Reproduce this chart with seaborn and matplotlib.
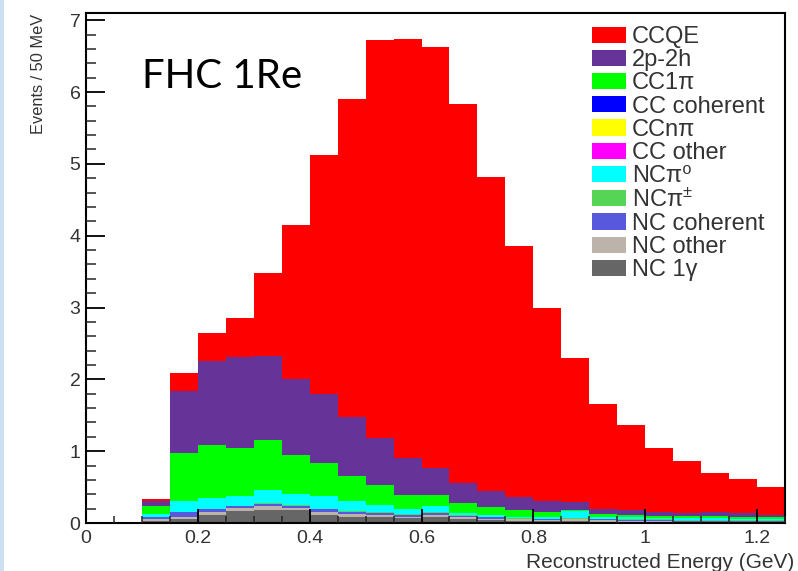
import numpy as np
import pandas as pd
import matplotlib
matplotlib.use("Agg")
import matplotlib.pyplot as plt
from matplotlib.patches import Patch, Rectangle
from matplotlib.ticker import MultipleLocator
import seaborn as sns

# ---------------- data (events per 50 MeV bin) ----------------
bin_low = [0.10, 0.15, 0.20, 0.25, 0.30, 0.35, 0.40, 0.45, 0.50, 0.55, 0.60, 0.65,
           0.70, 0.75, 0.80, 0.85, 0.90, 0.95, 1.00, 1.05, 1.10, 1.15, 1.20]
bin_width = 0.05

ccqe      = [0.02, 0.25, 0.40, 0.55, 1.16, 2.15, 3.32, 4.43, 5.54, 5.84, 5.85, 5.29,
             4.37, 3.50, 2.70, 2.01, 1.46, 1.18, 0.89, 0.73, 0.53, 0.47, 0.39]
two_p2h   = [0.08, 0.87, 1.16, 1.26, 1.17, 1.05, 0.97, 0.81, 0.65, 0.51, 0.38, 0.27,
             0.22, 0.18, 0.15, 0.11, 0.07, 0.07, 0.06, 0.04, 0.06, 0.05, 0.02]
cc1pi     = [0.10, 0.66, 0.74, 0.68, 0.69, 0.54, 0.46, 0.36, 0.28, 0.20, 0.16, 0.14,
             0.11, 0.09, 0.06, 0.01, 0.05, 0.03, 0.03, 0.03, 0.03, 0.03, 0.03]
cc_coh    = [0.00, 0.00, 0.00, 0.00, 0.00, 0.00, 0.00, 0.00, 0.00, 0.00, 0.00, 0.00,
             0.00, 0.00, 0.00, 0.00, 0.00, 0.00, 0.00, 0.00, 0.00, 0.00, 0.00]
cc_npi    = [0.00, 0.00, 0.00, 0.00, 0.00, 0.00, 0.00, 0.00, 0.00, 0.00, 0.00, 0.00,
             0.00, 0.00, 0.00, 0.00, 0.00, 0.00, 0.00, 0.00, 0.00, 0.00, 0.00]
cc_other  = [0.00, 0.00, 0.00, 0.00, 0.00, 0.00, 0.00, 0.00, 0.00, 0.00, 0.00, 0.00,
             0.00, 0.00, 0.00, 0.00, 0.00, 0.00, 0.00, 0.00, 0.00, 0.00, 0.00]
nc_pi0    = [0.04, 0.15, 0.15, 0.13, 0.18, 0.16, 0.17, 0.13, 0.10, 0.07, 0.08, 0.03,
             0.02, 0.02, 0.03, 0.10, 0.02, 0.03, 0.02, 0.03, 0.03, 0.02, 0.02]
nc_pipm   = [0.00, 0.01, 0.01, 0.01, 0.01, 0.01, 0.01, 0.01, 0.01, 0.01, 0.01, 0.01,
             0.01, 0.01, 0.01, 0.01, 0.01, 0.01, 0.01, 0.01, 0.01, 0.01, 0.01]
nc_coh    = [0.04, 0.06, 0.04, 0.02, 0.04, 0.03, 0.03, 0.03, 0.03, 0.02, 0.03, 0.02,
             0.02, 0.01, 0.01, 0.01, 0.01, 0.01, 0.01, 0.01, 0.01, 0.01, 0.01]
nc_other  = [0.02, 0.04, 0.04, 0.04, 0.05, 0.03, 0.05, 0.04, 0.03, 0.02, 0.03, 0.02,
             0.02, 0.02, 0.01, 0.02, 0.02, 0.01, 0.01, 0.01, 0.01, 0.01, 0.01]
nc_1gamma = [0.03, 0.05, 0.11, 0.17, 0.18, 0.18, 0.11, 0.09, 0.08, 0.07, 0.08, 0.06,
             0.04, 0.03, 0.03, 0.03, 0.02, 0.02, 0.02, 0.01, 0.01, 0.01, 0.01]

modes = ["CCQE", "2p-2h", "CC1π", "CC coherent", "CCnπ", "CC other",
         "NCπ0", "NCπpm", "NC coherent", "NC other", "NC 1γ"]
mode_values = [ccqe, two_p2h, cc1pi, cc_coh, cc_npi, cc_other,
               nc_pi0, nc_pipm, nc_coh, nc_other, nc_1gamma]
legend_labels = ["CCQE", "2p-2h", "CC1π", "CC coherent", "CCnπ", "CC other",
                 "NCπ⁰", "NCπ$^{\\pm}$", "NC coherent", "NC other", "NC 1γ"]
colors = ["#ff0000", "#663399", "#00ff00", "#0000ff", "#ffff00", "#ff00ff",
          "#00ffff", "#55d455", "#5858dc", "#bcb3aa", "#666666"]

x_ticks = [0, 0.2, 0.4, 0.6, 0.8, 1.0, 1.2]
x_tick_labels = ["0", "0.2", "0.4", "0.6", "0.8", "1", "1.2"]
y_ticks = [0, 1, 2, 3, 4, 5, 6, 7]

# ---------------- table ----------------
rows = []
for m, vals in zip(modes, mode_values):
    for lo, v in zip(bin_low, vals):
        rows.append({"energy": lo + bin_width / 2, "events": v, "mode": m})
df = pd.DataFrame(rows)
edges = list(bin_low) + [bin_low[-1] + bin_width]

# ---------------- style ----------------
sns.set_style("ticks")
plt.rcParams["font.family"] = ["Liberation Sans", "DejaVu Sans"]
plt.rcParams["mathtext.fontset"] = "custom"
plt.rcParams["mathtext.rm"] = "Liberation Sans"
plt.rcParams["mathtext.it"] = "Liberation Sans:italic"

W, H = 798, 571
fig = plt.figure(figsize=(W / 100, H / 100), dpi=100)
fig.patch.set_facecolor("white")
fig.patches.append(Rectangle((0, 0), 4 / W, 1, transform=fig.transFigure,
                             facecolor="#cfdff2", edgecolor="none", zorder=0))

ax = fig.add_axes([86 / W, (H - 523) / H, 699 / W, 510 / H])
palette = dict(zip(modes, colors))
sns.histplot(data=df, x="energy", weights="events", hue="mode", hue_order=modes,
             bins=edges, multiple="stack", element="step", palette=palette,
             alpha=1, linewidth=0, legend=False, ax=ax)

ax.set_xlim(0, 1.25)
ax.set_ylim(0, 7.1)
ax.set_xticks(x_ticks)
ax.set_xticklabels(x_tick_labels)
ax.set_yticks(y_ticks)
ax.xaxis.set_minor_locator(MultipleLocator(0.05))
ax.yaxis.set_minor_locator(MultipleLocator(0.2))
ax.set_xlabel("")
ax.set_ylabel("")
ax.set_axisbelow(False)

for sp in ax.spines.values():
    sp.set_visible(True)
    sp.set_color("black")
    sp.set_linewidth(1.5)

ax.tick_params(axis="y", which="major", direction="in", length=14, width=1.3,
               labelsize=14, pad=4, colors="black")
ax.tick_params(axis="y", which="minor", direction="in", length=7, width=1.1)
ax.tick_params(axis="x", which="major", direction="in", length=10, width=1.3,
               labelsize=14, pad=5, colors="black")
ax.tick_params(axis="x", which="minor", direction="in", length=5, width=1.1)
for lab in ax.get_xticklabels() + ax.get_yticklabels():
    lab.set_color("#333333")

fig.text(794 / W, (H - 568) / H, "Reconstructed Energy (GeV)", ha="right",
         va="baseline", fontsize=15, color="#333333")
fig.text(46 / W, (H - 14) / H, "Events / 50 MeV", rotation=90, ha="right",
         va="top", fontsize=11.8, color="#333333")

ax.text((142 - 86) / 699, (523 - 88) / 510, "FHC 1Re", transform=ax.transAxes,
        ha="left", va="baseline", fontsize=29, family=["Lato", "DejaVu Sans"],
        color="black")

handles = [Patch(facecolor=c, edgecolor="none") for c in colors]
leg = ax.legend(handles, legend_labels, loc="upper left",
                bbox_to_anchor=(592 / W, (H - 26) / H), bbox_transform=fig.transFigure,
                frameon=False, fontsize=17, borderpad=0, borderaxespad=0,
                handlelength=1.44, handleheight=0.68, handletextpad=0.25,
                labelspacing=0.05)
for t in leg.get_texts():
    t.set_color("#333333")

fig.savefig("out.png", dpi=100, facecolor="white")
